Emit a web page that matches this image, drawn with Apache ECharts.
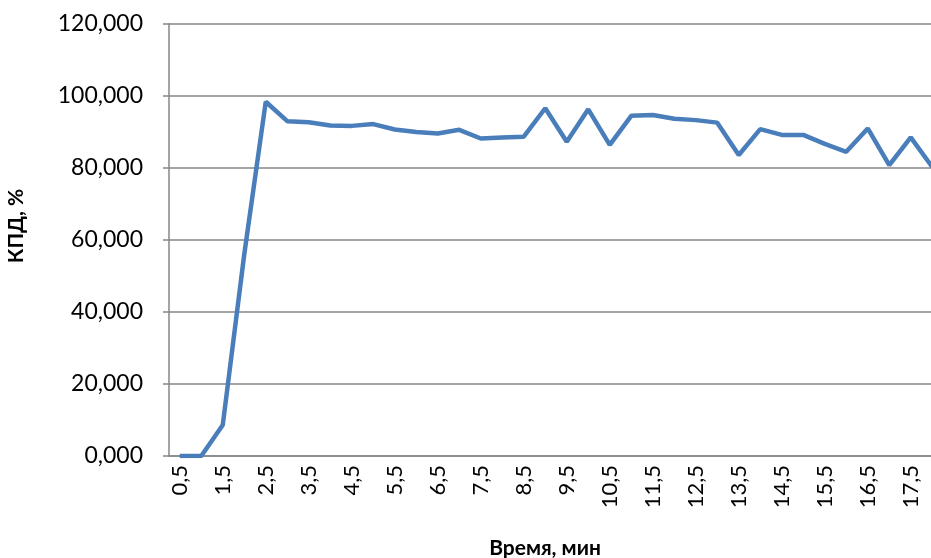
<!DOCTYPE html>
<html>
<head>
<meta charset="utf-8">
<script src="https://cdn.jsdelivr.net/npm/echarts@6/dist/echarts.min.js"></script>
<style>html,body{margin:0;padding:0;background:#fff}#c{width:931px;height:558px}</style>
</head>
<body>
<div id="c"></div>
<script>
const categories = ['0,5','1,0','1,5','2,0','2,5','3,0','3,5','4,0','4,5','5,0','5,5','6,0','6,5','7,0','7,5','8,0','8,5','9,0','9,5','10,0','10,5','11,0','11,5','12,0','12,5','13,0','13,5','14,0','14,5','15,0','15,5','16,0','16,5','17,0','17,5','18,0'];
const kpd = [0, 0, 8.6, 56, 98.4, 93.0, 92.7, 91.8, 91.7, 92.2, 90.7, 90.0, 89.6, 90.6, 88.2, 88.5, 88.7, 96.6, 87.3, 96.3, 86.4, 94.5, 94.7, 93.7, 93.3, 92.6, 83.6, 90.8, 89.2, 89.2, 86.7, 84.5, 91.0, 80.8, 88.5, 80.3];
const yTicks = [0, 20, 40, 60, 80, 100, 120];
const xName = 'Время, мин';
const yName = 'КПД, %';

const FONT = 'Lato';
const chart = echarts.init(document.getElementById('c'), null, {renderer: 'canvas'});
chart.setOption({
  animation: false,
  grid: {left: 169, top: 24, bottom: 102, right: -12, containLabel: false, outerBoundsMode: 'none'},
  xAxis: {
    type: 'category',
    data: categories,
    boundaryGap: true,
    name: xName,
    nameLocation: 'middle',
    nameGap: 82,
    nameTextStyle: {fontFamily: FONT, fontSize: 21, fontWeight: 'bold', color: '#000', padding: [0, 22, 0, 0]},
    axisLine: {lineStyle: {color: '#868686', width: 1.5}},
    axisTick: {show: false},
    axisLabel: {interval: 1, rotate: 90, margin: 9, fontFamily: FONT, fontSize: 22, color: '#000'},
    splitLine: {show: false}
  },
  yAxis: {
    type: 'value',
    min: yTicks[0],
    max: yTicks[yTicks.length - 1],
    interval: 20,
    name: yName,
    nameLocation: 'middle',
    nameGap: 142,
    nameTextStyle: {fontFamily: FONT, fontSize: 21, fontWeight: 'bold', color: '#000', padding: [0, 0, 0, 28]},
    axisLine: {show: true, lineStyle: {color: '#868686', width: 1.5}},
    axisTick: {show: true, inside: false, length: 6, lineStyle: {color: '#868686', width: 1.5}},
    axisLabel: {margin: 26, fontFamily: FONT, fontSize: 23, color: '#000',
      formatter: v => v.toFixed(3).replace('.', ',')},
    splitLine: {show: true, lineStyle: {color: '#868686', width: 1.5}}
  },
  series: [{
    type: 'line',
    data: kpd,
    symbol: 'none',
    lineStyle: {color: '#4a7ebb', width: 4.5},
    itemStyle: {color: '#4a7ebb'}
  }]
});
</script>
</body>
</html>
